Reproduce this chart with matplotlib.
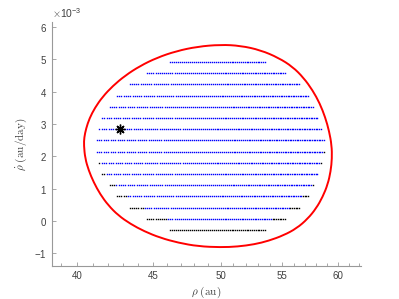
import matplotlib
matplotlib.use("Agg")
import matplotlib.pyplot as plt
import matplotlib.ticker as mticker
from matplotlib.path import Path
from matplotlib.patches import PathPatch
import numpy as np

plt.rcParams['font.family'] = ['Liberation Sans', 'DejaVu Sans']
plt.rcParams['mathtext.fontset'] = 'cm'

# rows of the sample grid: rho-dot value and rho extent of each row
row_rhodot = [4.915, 4.569, 4.223, 3.877, 3.531, 3.185, 2.839, 2.493,
              2.147, 1.801, 1.455, 1.109, 0.763, 0.417, 0.071, -0.275]  # 1e-3 au/day
row_rho_left = [46.20, 44.60, 43.41, 42.57, 42.08, 41.60, 41.43, 41.26,
                41.26, 41.43, 41.60, 42.08, 42.57, 43.41, 44.60, 46.20]
row_rho_right = [53.69, 55.37, 56.46, 57.34, 57.79, 58.24, 58.49, 58.70,
                 58.70, 58.49, 58.24, 57.79, 57.34, 56.46, 55.37, 53.69]
rho_step = 0.15
# black points: rho below black_lo or above black_hi
black_lo = [0, 0, 0, 0, 0, 0, 0, 0, 0, 41.5, 41.8, 42.45, 43.2, 44.35, 45.97, 99]
black_hi = [99, 99, 99, 99, 99, 99, 99, 99, 58.55, 58.35, 58.1, 57.55, 56.75, 55.6, 54.15, 0]

# nominal solution
star_rho = 42.74
star_rhodot = 2.839  # 1e-3

# red boundary curve (closed, clockwise from the top)
curve_rho = [49.99, 51.57, 53.19, 54.70, 55.91, 56.87, 57.67, 58.31, 58.81, 59.17,
             59.40, 59.43, 59.31, 59.04, 58.58, 57.99, 57.23, 56.26, 55.13, 53.86,
             52.70, 51.33, 49.99, 48.30, 46.83, 45.53, 44.41, 43.46, 42.65, 42.00,
             41.48, 41.06, 40.74, 40.52, 40.44, 40.46, 40.58, 40.79, 41.14, 41.63,
             42.29, 43.11, 44.11, 45.29, 46.67, 48.23]
curve_rhodot = [5.449, 5.416, 5.280, 5.042, 4.764, 4.424, 4.038, 3.636, 3.204, 2.771,
                2.339, 1.937, 1.535, 1.134, 0.748, 0.392, 0.068, -0.226, -0.442, -0.612,
                -0.720, -0.791, -0.812, -0.782, -0.673, -0.519, -0.318, -0.087, 0.176, 0.485,
                0.825, 1.196, 1.566, 1.937, 2.339, 2.580, 2.861, 3.170, 3.500, 3.837,
                4.171, 4.492, 4.788, 5.045, 5.249, 5.388]

fig = plt.figure(figsize=(3.99, 2.99), dpi=100)
ax = fig.add_axes([0.1296, 0.1104, 0.775, 0.815])

for i in range(len(row_rhodot)):
    rho = np.arange(row_rho_left[i], row_rho_right[i] + 1e-6, rho_step)
    rd = np.full(rho.shape, row_rhodot[i] * 1e-3)
    blk = (rho < black_lo[i]) | (rho > black_hi[i])
    ax.plot(rho[~blk], rd[~blk], 's', color=(0, 0, 1), ms=1.0, mew=0)
    ax.plot(rho[blk], rd[blk], 's', color='k', ms=1.0, mew=0)

ax.set_xscale('log')
ax.set_xlim(38.47, 62.16)
ax.set_ylim(-1.39e-3, 6.14e-3)

# smooth closed outline: the read points act as quadratic Bezier controls
pts = np.column_stack([curve_rho, np.array(curve_rhodot) * 1e-3])
disp = ax.transData.transform(pts)
mids = (disp + np.roll(disp, -1, axis=0)) / 2
verts = [mids[-1]]
codes = [Path.MOVETO]
for k in range(len(disp)):
    verts += [disp[k], mids[k]]
    codes += [Path.CURVE3, Path.CURVE3]
outline = Path(verts, codes)
ax.add_patch(PathPatch(outline, transform=None, facecolor='none',
                       edgecolor=(1, 0, 0), lw=1.4, clip_on=False))

ax.plot(star_rho, star_rhodot * 1e-3, marker=(8, 2, 0), color='k', ms=7, mew=1.0)

ax.xaxis.set_major_locator(mticker.FixedLocator([40, 45, 50, 55, 60]))
ax.xaxis.set_major_formatter(mticker.FormatStrFormatter('%d'))
ax.xaxis.set_minor_locator(mticker.FixedLocator([m for m in range(39, 63) if m % 5 != 0]))
ax.xaxis.set_minor_formatter(mticker.NullFormatter())
ax.set_yticks(np.arange(-1, 7) * 1e-3)
ax.ticklabel_format(axis='y', style='sci', scilimits=(0, 0), useMathText=True)

for s in ['top', 'right']:
    ax.spines[s].set_visible(False)
for s in ['left', 'bottom']:
    ax.spines[s].set_color('0.6')
    ax.spines[s].set_linewidth(0.8)
ax.tick_params(which='both', direction='in', colors='0.6', labelcolor='0.25', labelsize=7)
ax.tick_params(which='major', length=3, width=0.6)
ax.tick_params(which='minor', length=2, width=0.6)
ax.yaxis.get_offset_text().set_fontsize(7.5)
ax.yaxis.get_offset_text().set_color('0.25')

ax.set_xlabel(r'$\rho\ \mathrm{(au)}$', fontsize=8, color='0.25', labelpad=3)
ax.set_ylabel(r'$\dot{\rho}\ \mathrm{(au/day)}$', fontsize=8, color='0.25', labelpad=4)

fig.savefig('out.png', dpi=100)
